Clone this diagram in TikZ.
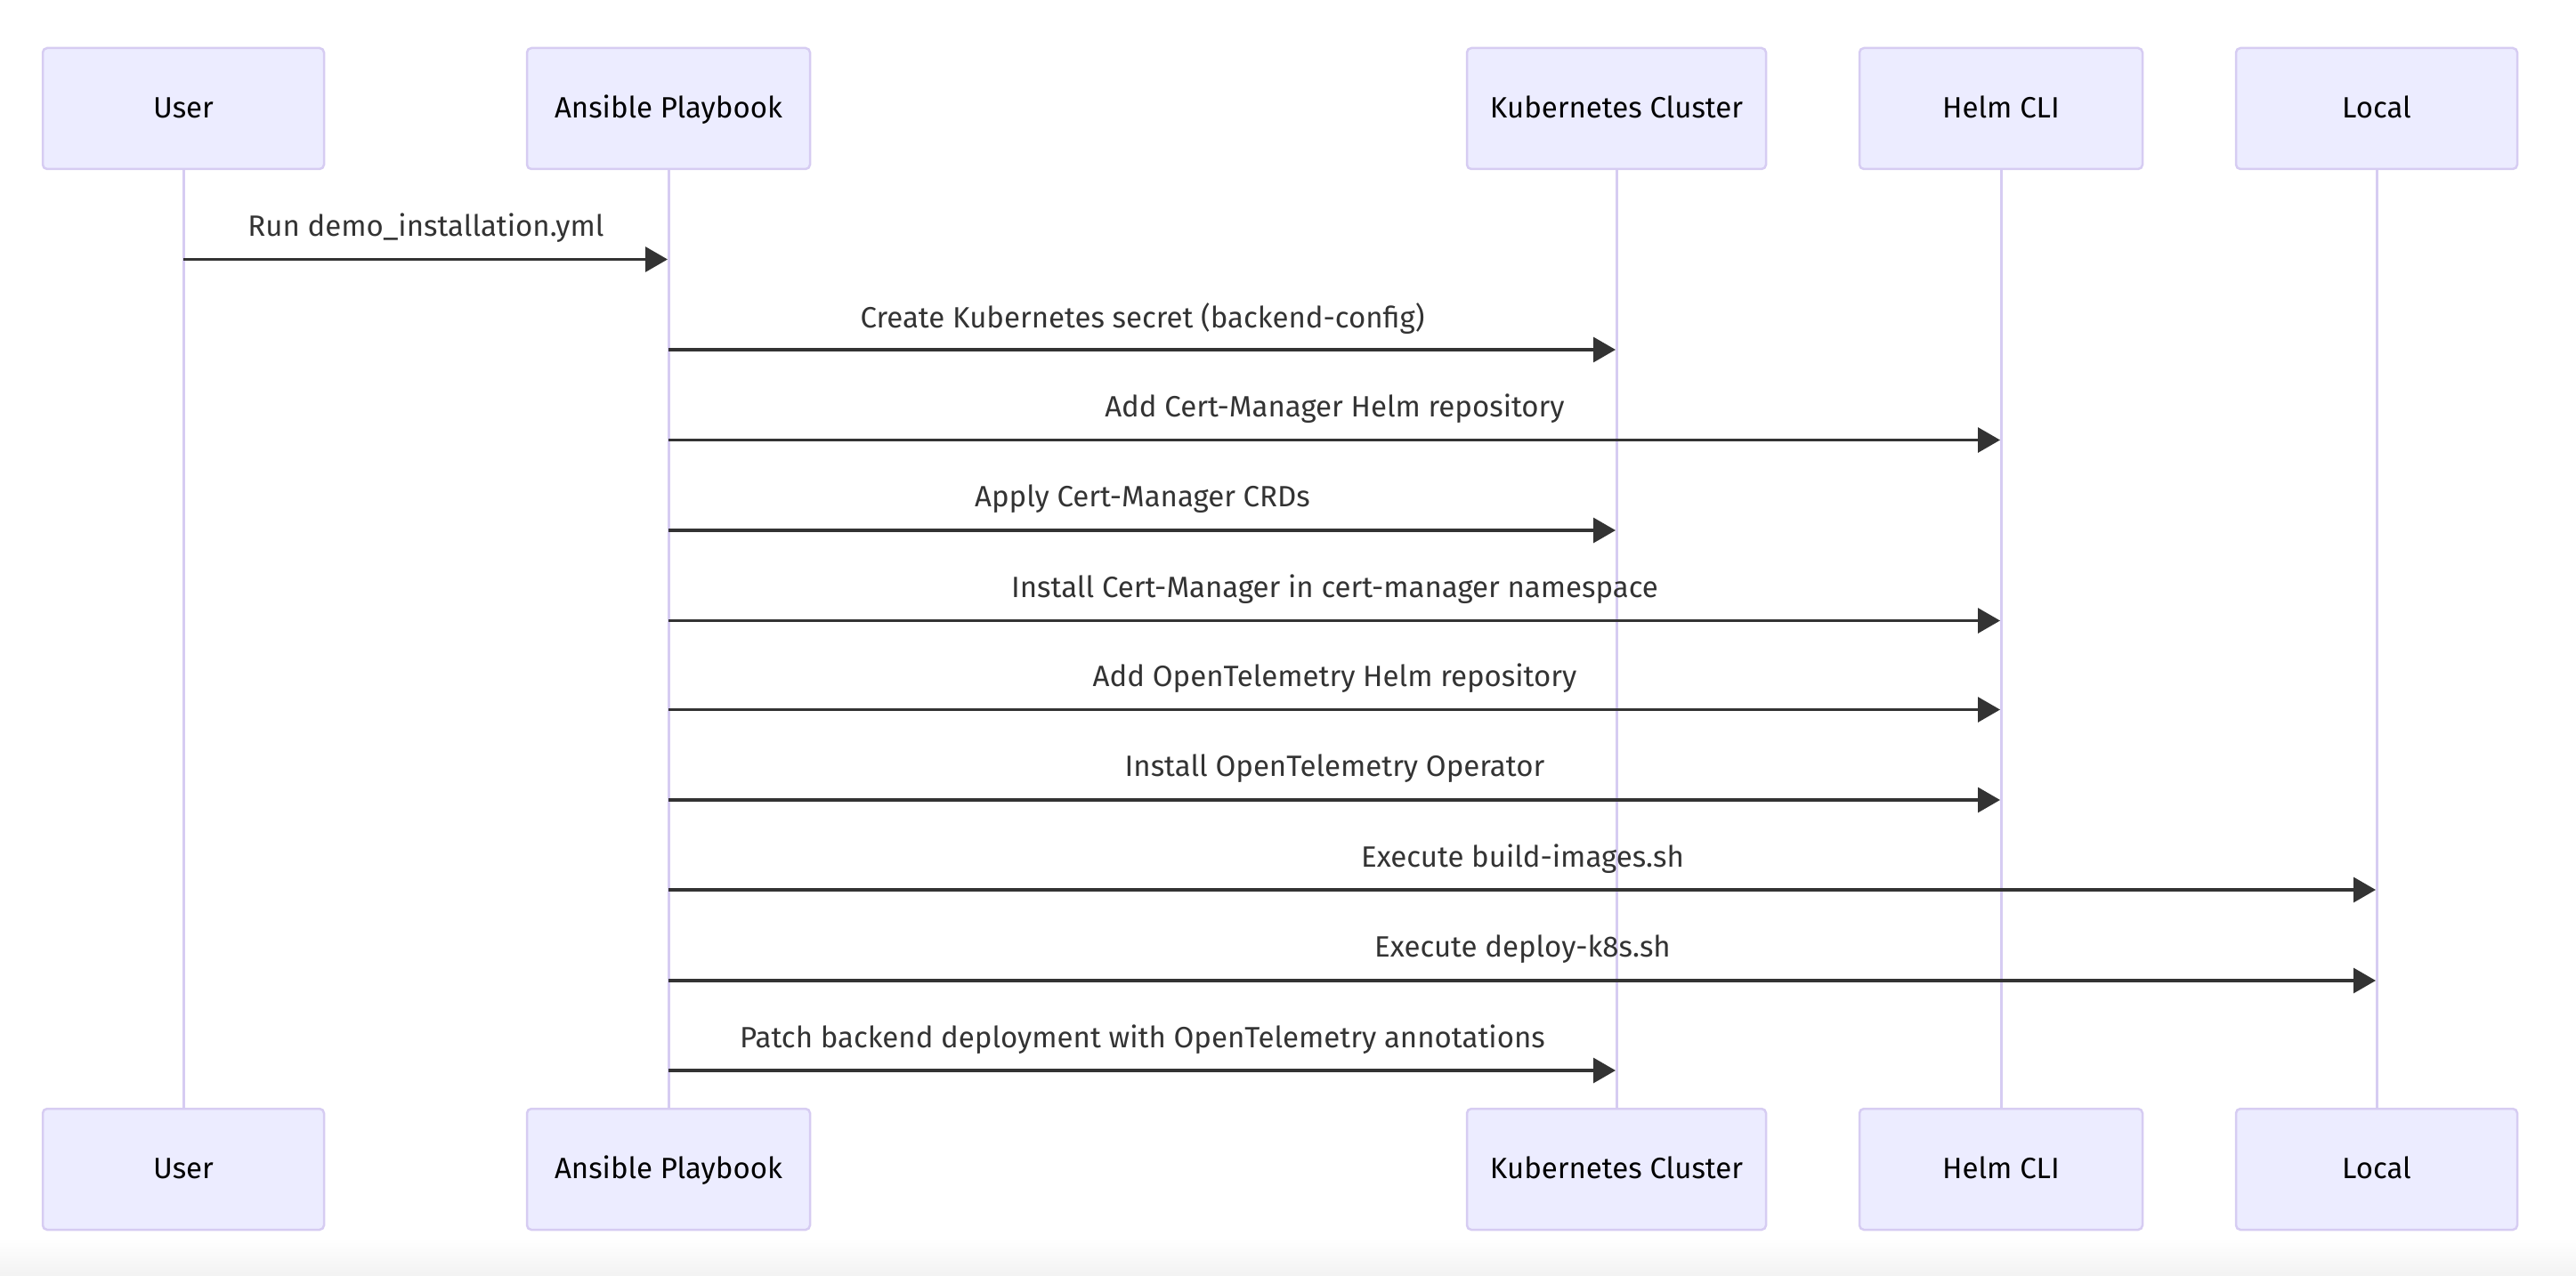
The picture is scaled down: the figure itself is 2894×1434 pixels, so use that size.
\documentclass[tikz,border=0pt]{standalone}
\usepackage{fontspec}
\setmainfont{Fira Sans}
\usetikzlibrary{arrows.meta}
\definecolor{actfill}{HTML}{ECECFF}
\definecolor{actline}{HTML}{D6CCF2}
\definecolor{msgcol}{HTML}{333333}
\begin{document}
\begin{tikzpicture}[x=1pt,y=-1pt,
  actor/.style={draw=actline, line width=2.5pt, fill=actfill, rounded corners=5pt,
    minimum height=136pt, inner sep=0pt, font=\fontsize{33}{38}\selectfont, text=black,
    text height=21pt, text depth=0pt},
  life/.style={draw=actline, line width=3pt},
  msg/.style={draw=msgcol, line width=3.2pt, -{Triangle[length=25pt,width=28pt]}, shorten >=1pt},
  lbl/.style={font=\fontsize{33}{38}\selectfont, text=msgcol, inner sep=0pt}]
\useasboundingbox (0,0) rectangle (2894,1434);
\shade[top color=white, bottom color=black!5] (0,1392) rectangle (2894,1434);
% lifeline anchors (drawn first, behind the boxes)
\foreach \a/\x in {u/206,a/751,k/1816,h/2248,l/2670}{
  \coordinate (\a L1) at (\x,190);
  \coordinate (\a L2) at (\x,1246);
  \draw[life] (\a L1) -- (\a L2);
}
% top actors
\node[actor, minimum width=316pt] (uT) at (206,122) {User};
\node[actor, minimum width=318pt] (aT) at (751,122) {Ansible Playbook};
\node[actor, minimum width=336pt] (kT) at (1816,122) {Kubernetes Cluster};
\node[actor, minimum width=318pt] (hT) at (2248,122) {Helm CLI};
\node[actor, minimum width=316pt] (lT) at (2670,122) {Local};
% bottom actors
\node[actor, minimum width=316pt] (uB) at (206,1314) {User};
\node[actor, minimum width=318pt] (aB) at (751,1314) {Ansible Playbook};
\node[actor, minimum width=336pt] (kB) at (1816,1314) {Kubernetes Cluster};
\node[actor, minimum width=318pt] (hB) at (2248,1314) {Helm CLI};
\node[actor, minimum width=316pt] (lB) at (2670,1314) {Local};
% message rows
\foreach \i/\y in {1/291.5,2/393,3/494.5,4/596,5/697.5,6/797.5,7/899,8/1000,9/1102,10/1203}{
  \coordinate (m\i) at (0,\y);
}
\newcommand{\msgto}[4]{%
  \draw[msg] (#1T.south |- #3) -- (#2T.south |- #3)
    node[lbl, midway, yshift=35pt] {#4};}
\msgto{u}{a}{m1}{Run demo\_installation.yml}
\msgto{a}{k}{m2}{Create Kubernetes secret (backend-config)}
\msgto{a}{h}{m3}{Add Cert-Manager Helm repository}
\msgto{a}{k}{m4}{Apply Cert-Manager CRDs}
\msgto{a}{h}{m5}{Install Cert-Manager in cert-manager namespace}
\msgto{a}{h}{m6}{Add OpenTelemetry Helm repository}
\msgto{a}{h}{m7}{Install OpenTelemetry Operator}
\msgto{a}{l}{m8}{Execute build-images.sh}
\msgto{a}{l}{m9}{Execute deploy-k8s.sh}
\msgto{a}{k}{m10}{Patch backend deployment with OpenTelemetry annotations}
\end{tikzpicture}
\end{document}
